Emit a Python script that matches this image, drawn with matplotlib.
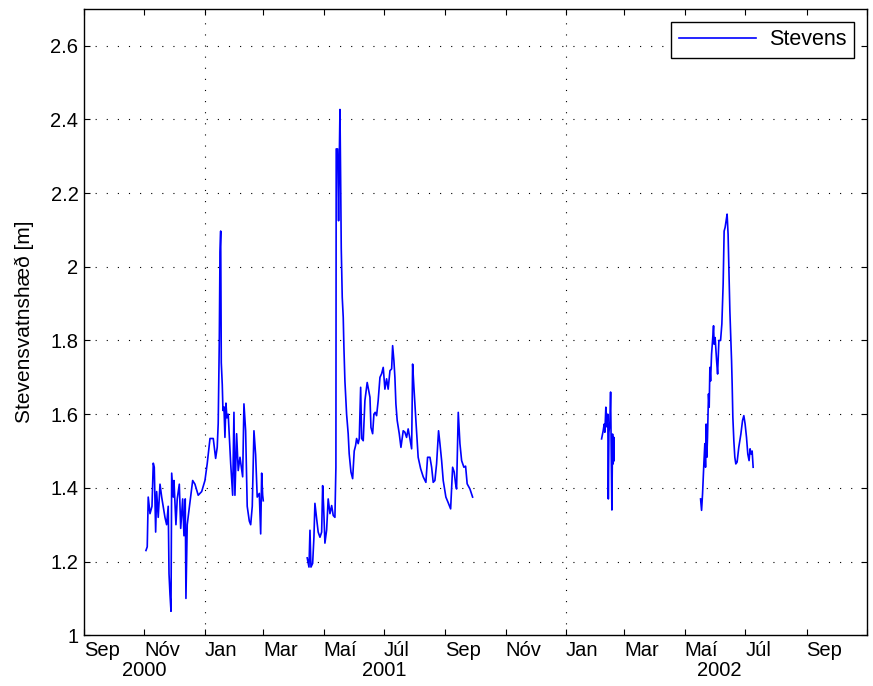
import numpy as np
import pandas as pd
import matplotlib
matplotlib.use("Agg")
import matplotlib.pyplot as plt
import matplotlib.transforms as mtransforms

plt.rcParams['font.family'] = ['Liberation Sans', 'DejaVu Sans']

# day offsets from 2000-09-01 and water level [m]
start = pd.Timestamp("2000-09-01")

seg1_day = [62.6, 63.9, 64.9, 66.7, 68.7, 70.0, 71.0, 72.4, 73.4, 75.0, 76.8, 78.5,
            81.8, 83.5, 85.1, 85.9, 86.9, 87.9, 88.6, 90.2, 90.9, 92.9, 94.2, 96.3,
            97.7, 99.7, 101.0, 102.3, 103.0, 104.3, 106.1, 109.8, 112.1, 115.4, 118.9,
            122.2, 124.5, 127.3, 130.6, 133.0, 134.6, 135.6, 136.7, 137.4, 138.1, 138.7,
            139.7, 140.4, 141.4, 142.4, 143.4, 144.4, 145.7, 148.2, 150.2, 151.5, 152.5,
            154.2, 155.8, 157.6, 160.3, 161.6, 163.3, 164.9, 167.0, 168.4, 170.0, 171.7,
            173.4, 175.0, 177.1, 178.5, 179.5, 180.5, 181.1]
seg1_val = [1.23, 1.24, 1.375, 1.33, 1.35, 1.467, 1.456, 1.28, 1.39, 1.32, 1.41, 1.375,
            1.32, 1.30, 1.35, 1.167, 1.11, 1.065, 1.44, 1.375, 1.42, 1.30, 1.37, 1.41,
            1.29, 1.37, 1.27, 1.37, 1.10, 1.30, 1.34, 1.42, 1.41, 1.38, 1.39,
            1.42, 1.466, 1.534, 1.534, 1.48, 1.51, 1.575, 1.80, 2.04, 2.097, 1.74,
            1.68, 1.61, 1.62, 1.537, 1.63, 1.59, 1.60, 1.466, 1.38, 1.605, 1.38,
            1.547, 1.447, 1.483, 1.43, 1.628, 1.555, 1.35, 1.31, 1.30, 1.35, 1.555,
            1.49, 1.375, 1.385, 1.275, 1.44, 1.38, 1.365]

seg2_day = [225.5, 227.3, 228.3, 229.3, 231.0, 232.3, 233.3, 235.3, 236.6, 238.4, 240.1,
            241.1, 242.1, 243.4, 245.1, 246.7, 248.5, 250.2, 251.8, 253.5, 254.5, 254.8,
            256.2, 257.2, 257.9, 258.6, 259.3, 259.9, 260.9, 261.9, 262.6, 263.6, 265.3,
            266.9, 267.9, 269.7, 271.4, 273.0, 274.4, 275.4, 277.0, 278.1, 279.5, 280.5,
            282.1, 283.8, 286.1, 288.9, 289.9, 291.6, 292.9, 294.2, 295.6, 297.2, 299.0,
            300.7, 302.3, 304.0, 305.7, 307.3, 309.1, 310.8, 311.8, 313.1, 314.1, 315.1,
            316.4, 318.5, 320.2, 322.5, 324.2, 325.9, 327.5, 329.3, 331.0, 332.0, 333.3,
            335.3, 337.6, 340.1, 342.7, 345.4, 347.1, 349.5, 351.2, 352.8, 354.5, 356.2,
            358.2, 359.6, 361.3, 362.9, 365.6, 367.9, 370.4, 372.4, 374.0, 375.4, 376.4,
            378.1, 379.8, 381.5, 383.8, 385.5, 387.1, 389.9, 392.6]
seg2_val = [1.21, 1.185, 1.285, 1.185, 1.195, 1.266, 1.358, 1.31, 1.28, 1.266, 1.28,
            1.406, 1.348, 1.25, 1.285, 1.37, 1.33, 1.352, 1.325, 1.32, 1.456, 2.32,
            2.32, 2.125, 2.29, 2.427, 2.233, 2.05, 1.917, 1.863, 1.78, 1.69, 1.60,
            1.547, 1.493, 1.443, 1.425, 1.50, 1.515, 1.534, 1.52, 1.534, 1.673, 1.534,
            1.528, 1.637, 1.686, 1.646, 1.564, 1.547, 1.60, 1.605, 1.596, 1.637, 1.70,
            1.71, 1.727, 1.668, 1.696, 1.668, 1.718, 1.723, 1.786, 1.745, 1.70, 1.628,
            1.583, 1.547, 1.51, 1.555, 1.551, 1.537, 1.56, 1.533, 1.506, 1.736, 1.673,
            1.583, 1.483, 1.452, 1.43, 1.415, 1.483, 1.483, 1.456, 1.415, 1.42, 1.465,
            1.555, 1.52, 1.474, 1.42, 1.375, 1.36, 1.343, 1.456, 1.443, 1.411, 1.397,
            1.605, 1.52, 1.474, 1.456, 1.459, 1.411, 1.397, 1.375]

seg3_day = [522.9, 524.5, 525.5, 526.2, 527.2, 527.9, 528.5, 529.2, 529.7, 530.3, 531.3,
            532.0, 532.6, 533.3, 534.0, 534.6, 535.3, 535.6]
seg3_val = [1.533, 1.555, 1.573, 1.551, 1.619, 1.592, 1.565, 1.60, 1.37, 1.55, 1.58,
            1.66, 1.51, 1.34, 1.546, 1.465, 1.537, 1.474]

seg4_day = [622.9, 623.9, 624.9, 626.2, 627.2, 627.9, 628.5, 629.2, 629.9, 630.9, 631.6,
            632.3, 633.0, 634.0, 635.0, 636.0, 636.6, 637.6, 639.1, 640.1, 641.4, 643.1,
            644.4, 645.7, 646.7, 647.7, 648.7, 649.7, 650.7, 651.7, 652.5, 653.5, 654.2,
            654.8, 655.5, 656.5, 657.5, 658.5, 659.8, 661.5, 663.6, 665.3, 666.6, 667.9,
            669.3, 670.6, 671.9, 672.9, 673.9, 675.0, 676.0]
seg4_val = [1.37, 1.339, 1.384, 1.465, 1.52, 1.456, 1.573, 1.483, 1.537, 1.655, 1.619,
            1.727, 1.69, 1.763, 1.80, 1.84, 1.79, 1.808, 1.745, 1.709, 1.80, 1.80,
            1.845, 1.953, 2.097, 2.107, 2.125, 2.143, 2.088, 1.971, 1.88, 1.80, 1.745,
            1.682, 1.592, 1.528, 1.483, 1.465, 1.47, 1.51, 1.546, 1.583, 1.596, 1.573,
            1.537, 1.492, 1.474, 1.506, 1.492, 1.50, 1.456]

month_ticks = pd.date_range("2000-09-01", "2002-11-01", freq="2MS")
month_names = ["Sep", "Nóv", "Jan", "Mar", "Maí", "Júl",
               "Sep", "Nóv", "Jan", "Mar", "Maí", "Júl",
               "Sep", "Nóv"]
year_labels = ["2000", "2001", "2002"]
year_pos = ["2000-11-01", "2001-07-01", "2002-06-05"]
y_ticks = [1, 1.2, 1.4, 1.6, 1.8, 2, 2.2, 2.4, 2.6]


def to_dates(days):
    return start + pd.to_timedelta(np.array(days), unit="D")


fig = plt.figure(figsize=(8.73, 6.86), dpi=100)
ax = fig.add_axes([0.0962, 0.074, 0.8969, 0.913])

segments = [(seg1_day, seg1_val), (seg2_day, seg2_val),
            (seg3_day, seg3_val), (seg4_day, seg4_val)]
for i, (d, v) in enumerate(segments):
    ax.plot(to_dates(d), v, color="blue", lw=1.2,
            label="Stevens" if i == 0 else None)

ax.set_xlim(pd.Timestamp("2000-09-01"), pd.Timestamp("2002-11-01"))
ax.set_ylim(1, 2.7)
ax.set_yticks(y_ticks)
ax.set_yticklabels([f"{t:g}" for t in y_ticks])

ax.set_xticks(month_ticks)
ax.set_xticklabels(month_names[:-1] + [""], ha="left")
for lab in ax.get_xticklabels():
    lab.set_transform(lab.get_transform() + mtransforms.ScaledTranslation(-2 / 72, 0, fig.dpi_scale_trans))

ax.tick_params(direction="in", top=True, right=True, length=4, width=0.8,
               labelsize=14.5, pad=4)
for s in ax.spines.values():
    s.set_linewidth(1.0)

# grid: horizontal at y ticks, vertical only at new year
grid_kw = dict(color="black", lw=0.8, linestyle=(0, (1, 9)), zorder=0)
for t in y_ticks[1:]:
    ax.axhline(t, **grid_kw)
for yr in ["2001-01-01", "2002-01-01"]:
    ax.axvline(pd.Timestamp(yr), **grid_kw)

trans = mtransforms.blended_transform_factory(ax.transData, ax.transAxes)
for lab, pos in zip(year_labels, year_pos):
    ax.text(pd.Timestamp(pos), -0.057, lab, transform=trans, ha="center",
            va="center", fontsize=14.5)

ax.set_ylabel("Stevensvatnshæð [m]", fontsize=15, labelpad=12)

leg = ax.legend(loc="upper right", fontsize=15.5, fancybox=False, framealpha=1,
                edgecolor="black", handlelength=3.6, borderaxespad=0.6,
                borderpad=0.35, handletextpad=0.6)
leg.get_frame().set_linewidth(1.0)

fig.savefig("out.png", dpi=100)
